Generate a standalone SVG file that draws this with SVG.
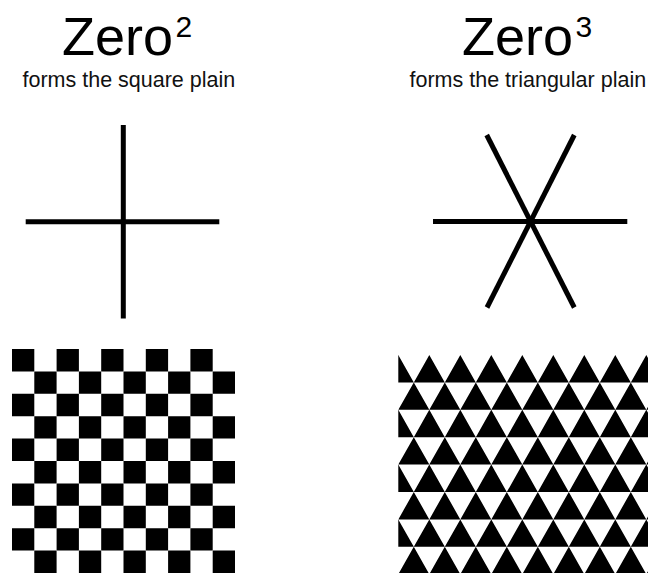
<svg xmlns="http://www.w3.org/2000/svg" xmlns:xlink="http://www.w3.org/1999/xlink" width="648" height="573" viewBox="0 0 648 573">
  <style>
    .title { font-family: "Liberation Sans", Arial, sans-serif; font-size: 54px; fill: #000; }
    .sup { font-family: "Liberation Sans", Arial, sans-serif; font-size: 30px; fill: #000; }
    .sub { font-family: "Liberation Sans", Arial, sans-serif; font-size: 21.5px; fill: #111; }
    .bar { stroke: #000; stroke-width: 5; fill: none; }
  </style>
  <defs>
    <path id="sqrow" d="M0 0h22.3v22.4h-22.3z m44.6 0h22.3v22.4h-22.3z m44.6 0h22.3v22.4h-22.3z m44.6 0h22.3v22.4h-22.3z m44.6 0h22.3v22.4h-22.3z" fill="#000"/>
    <path id="trirow" d="M0 0l15.5 27.4h-31z m31 0l15.5 27.4h-31z m31 0l15.5 27.4h-31z m31 0l15.5 27.4h-31z m31 0l15.5 27.4h-31z m31 0l15.5 27.4h-31z m31 0l15.5 27.4h-31z m31 0l15.5 27.4h-31z m31 0l15.5 27.4h-31z m31 0l15.5 27.4h-31z" fill="#000"/>
    <clipPath id="clipSq"><rect x="12" y="349" width="223" height="224"/></clipPath>
    <clipPath id="clipTri"><rect x="398.3" y="355" width="249.7" height="218"/></clipPath>
  </defs>
  <rect x="0" y="0" width="648" height="573" fill="#fff"/>

  <g id="title-square">
    <text class="title" x="62" y="55">Zero</text>
    <text class="sup" x="175.5" y="36.5">2</text>
    <text class="sub" x="22.5" y="87">forms the square plain</text>
  </g>

  <g id="title-triangular">
    <text class="title" x="462" y="55">Zero</text>
    <text class="sup" x="575.5" y="36.5">3</text>
    <text class="sub" x="409.5" y="87">forms the triangular plain</text>
  </g>

  <g id="cross">
    <line class="bar" x1="123.3" y1="125" x2="123.3" y2="318.5"/>
    <line class="bar" x1="25.7" y1="221.7" x2="219.3" y2="221.7"/>
  </g>

  <g id="star">
    <line class="bar" x1="433" y1="221.5" x2="627.3" y2="221.5"/>
    <line class="bar" x1="486.7" y1="135" x2="574.3" y2="307.5"/>
    <line class="bar" x1="574.3" y1="135" x2="487" y2="307.5"/>
  </g>

  <g id="checkerboard" clip-path="url(#clipSq)">
    <use xlink:href="#sqrow" transform="translate(12 349)"/>
    <use xlink:href="#sqrow" transform="translate(34.3 371.4)"/>
    <use xlink:href="#sqrow" transform="translate(12 393.8)"/>
    <use xlink:href="#sqrow" transform="translate(34.3 416.2)"/>
    <use xlink:href="#sqrow" transform="translate(12 438.6)"/>
    <use xlink:href="#sqrow" transform="translate(34.3 461)"/>
    <use xlink:href="#sqrow" transform="translate(12 483.4)"/>
    <use xlink:href="#sqrow" transform="translate(34.3 505.8)"/>
    <use xlink:href="#sqrow" transform="translate(12 528.2)"/>
    <use xlink:href="#sqrow" transform="translate(34.3 550.6)"/>
  </g>

  <g id="triangles" clip-path="url(#clipTri)">
    <use xlink:href="#trirow" transform="translate(398.3 355)"/>
    <use xlink:href="#trirow" transform="translate(413.8 382.4)"/>
    <use xlink:href="#trirow" transform="translate(398.3 409.8)"/>
    <use xlink:href="#trirow" transform="translate(413.8 437.2)"/>
    <use xlink:href="#trirow" transform="translate(398.3 464.6)"/>
    <use xlink:href="#trirow" transform="translate(413.8 492)"/>
    <use xlink:href="#trirow" transform="translate(398.3 519.4)"/>
    <use xlink:href="#trirow" transform="translate(413.8 546.8)"/>
  </g>
</svg>
